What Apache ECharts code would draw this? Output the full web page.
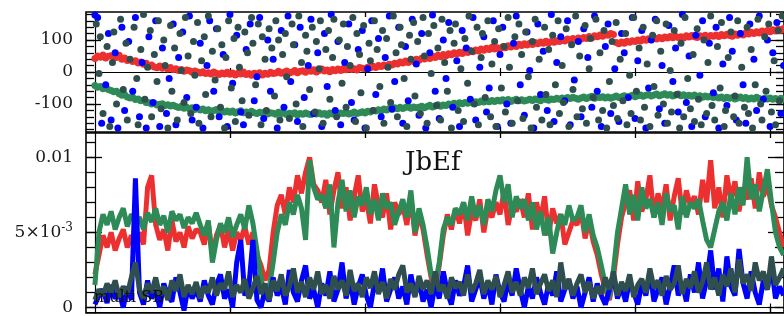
<!DOCTYPE html>
<html><head><meta charset="utf-8">
<script src="https://cdn.jsdelivr.net/npm/echarts@6/dist/echarts.min.js"></script>
<style>html,body{margin:0;padding:0;background:#fff}#c{width:784px;height:316px}</style>
</head><body><div id="c"></div>
<script>
// ---------- tick values ----------
const xTicks = [100, 200, 300, 400, 500];
const topMajor = [-100, 0, 100];
const topMinor = [-180,-160,-140,-120,-100,-80,-60,-40,-20,0,20,40,60,80,100,120,140,160,180];
const botMajor = [0, 0.005, 0.01];
const botMinor = [0,0.001,0.002,0.003,0.004,0.005,0.006,0.007,0.008,0.009,0.01,0.011];

// ---------- top panel: sequence series (x step 2) ----------
const topStep = 2;
const topRed = [42,50,46,53,44,49,51,47,45,52, 40,44,36,39,33,35,28,31,24,27, 18,22,16,13,19,12,15,9,14,8,
 10,5,8,2,6,4,-1,3,0,-3, 1,-5,-2,-6,0,-4,-8,-3,-6,-1, -7,-3,-9,-4,-6,0,-8,-5,-10,-4,
 -6,-2,-9,-4,-7,-1,-5,-3,2,-4, -1,3,-3,0,5,-2,2,4,-1,6, 2,7,0,5,9,3,6,1,8,4,
 9,5,11,7,13,8,10,6,14,12, 10,15,13,18,14,20,17,22,19,24, 22,27,25,31,28,34,30,36,33,40,
 37,43,41,46,42,49,45,52,48,55, 51,57,54,60,56,62,58,65,61,67, 63,69,66,72,68,74,70,77,72,76,
 73,79,76,82,78,84,80,87,83,88, 84,90,86,92,88,94,90,96,91,95, 93,98,95,101,97,103,99,105,101,106,
 103,108,105,111,107,113,110,116,112,118, 115,120,117,92,88,94,90,96,93,98, 95,100,97,103,99,104,101,107,103,108,
 104,109,106,111,107,112,108,110,106,113, 109,114,110,108,113,111,115,109,114,112, 116,111,117,113,118,114,112,119,115,120,
 116,122,119,124,120,126,122,128,124,130, 126,132,128,134,130,136];
const topGreen = [-42,-48,-45,-52,-49,-55,-58,-62,-60,-68, -73,-70,-78,-81,-79,-86,-84,-90,-88,-95,
 -96,-100,-98,-103,-101,-99,-105,-102,-106,-104, -108,-111,-107,-113,-110,-115,-112,-117,-114,-119,
 -116,-121,-118,-123,-120,-117,-124,-121,-125,-122, -126,-122,-128,-124,-121,-127,-125,-129,-123,-127,
 -130,-126,-128,-124,-131,-127,-129,-132,-126,-130, -128,-133,-129,-131,-127,-134,-130,-132,-128,-131,
 -133,-129,-131,-127,-132,-130,-135,-128,-131,-129, -132,-128,-130,-126,-131,-129,-125,-130,-127,-124,
 -128,-123,-125,-120,-122,-118,-121,-116,-119,-114, -117,-112,-115,-110,-114,-111,-108,-113,-109,-112,
 -110,-107,-112,-108,-104,-109,-106,-102,-107,-103, -105,-100,-103,-98,-101,-96,-99,-95,-98,-94,
 -97,-93,-95,-91,-94,-90,-93,-89,-92,-88, -91,-87,-90,-86,-92,-88,-85,-90,-87,-91,
 -88,-85,-89,-84,-87,-90,-83,-86,-88,-84, -86,-82,-85,-81,-84,-80,-83,-79,-82,-85,
 -81,-78,-83,-79,-76,-82,-78,-80,-77,-81, -78,-82,-79,-75,-80,-77,-74,-78,-76,-73,
 -77,-74,-72,-76,-73,-70,-75,-72,-69,-74, -71,-68,-73,-70,-75,-72,-69,-74,-71,-76,
 -73,-76,-72,-77,-74,-79,-75,-78,-76,-80, -77,-81,-78,-83,-79,-82,-80,-84,-81,-78,
 -83,-80,-85,-81,-84,-79,-83,-86,-82,-84, -81,-85,-83,-87,-82,-85];

// ---------- top panel: scattered points [x, y] ----------
const topBlue = [[0,178],[2,170],[5,-160],[8,-40],[10,120],[12,-150],[15,60],[17,-175],[20,140],[22,-120],
[25,95],[28,-60],[30,170],[33,-140],[35,30],[38,-175],[40,110],[43,-95],[45,160],[48,-170],
[50,75],[53,-130],[55,-20],[58,150],[60,-165],[62,45],[65,125],[68,-80],[70,175],[72,-150],
[75,-110],[78,90],[80,-175],[83,20],[85,160],[88,-60],[90,135],[92,-140],[95,55],[98,-170],
[100,180],[102,-35],[105,115],[108,-125],[110,-165],[112,70],[115,150],[118,-90],[120,-15],[122,170],
[125,-145],[128,100],[130,-60],[132,40],[135,-175],[138,130],[140,-110],[143,175],[145,-30],[148,85],
[150,-155],[152,140],[155,-80],[158,20],[160,165],[162,-130],[165,60],[168,-170],[170,120],[172,-45],
[175,180],[178,-120],[180,95],[182,-165],[185,30],[188,150],[190,-95],[192,-150],[195,70],[198,130],
[200,-175],[202,10],[205,160],[208,-70],[210,105],[212,-140],[215,45],[218,175],[220,-115],[222,-30],
[225,140],[228,-160],[230,80],[232,-90],[235,165],[238,25],[240,-135],[242,120],[245,-175],[248,60],
[250,178],[252,-60],[255,-145],[258,100],[260,-20],[262,155],[265,-110],[268,35],[270,-170],[272,130],
[275,75],[278,-85],[280,170],[282,-150],[285,15],[288,110],[290,-125],[292,-50],[295,160],[298,-170],
[300,55],[302,140],[305,-100],[308,-160],[310,90],[312,175],[315,-40],[318,-135],[320,125],[322,5],
[325,-175],[328,150],[330,-70],[332,65],[335,-120],[338,180],[340,-155],[342,30],[345,110],[348,-90],
[350,160],[352,-165],[355,-25],[358,95],[360,-140],[362,135],[365,45],[368,-110],[370,175],[372,-60],
[375,-170],[378,80],[380,150],[382,-130],[385,10],[388,-155],[390,120],[392,60],[395,-80],[398,170],
[400,-145],[402,35],[405,130],[408,-175],[410,-50],[412,100],[415,165],[418,-115],[420,20],[422,-160],
[425,145],[428,-30],[430,75],[432,-125],[435,180],[438,-95],[440,50],[442,-170],[445,115],[448,-10],
[450,160],[452,-140],[455,90],[458,-65],[460,140],[462,-175],[465,25],[468,-105],[470,170],[472,65],
[475,-150],[478,120],[480,-40],[482,-160],[485,150],[488,40],[490,-120],[492,175],[495,-85],[498,100],
[500,-170],[502,60],[505,155],[508,-130],[510,20]];
const topGray = [[1,150],[3,-5],[4,110],[6,-130],[9,80],[11,-170],[13,30],[14,125],[16,-100],[19,165],
[21,-55],[23,90],[24,-150],[26,40],[29,140],[31,-20],[32,-165],[34,70],[36,180],[37,-85],
[39,15],[41,130],[42,-140],[44,55],[46,-30],[47,160],[49,-115],[51,100],[52,20],[54,-175],
[56,145],[57,-60],[59,75],[61,-150],[63,120],[64,5],[66,-95],[67,170],[69,50],[71,-130],
[73,95],[74,-10],[76,155],[77,-160],[79,35],[81,110],[82,-70],[84,175],[86,-140],[87,65],
[89,-25],[91,135],[93,-110],[94,85],[96,-175],[97,45],[99,160],[101,-50],[103,105],[104,-155],
[106,140],[107,15],[109,-90],[111,125],[113,60],[114,-135],[116,170],[117,90],[119,-40],[121,150],
[123,-165],[124,110],[126,40],[127,-120],[129,135],[131,75],[133,-75],[134,160],[136,100],[137,-150],
[139,55],[141,120],[142,-15],[144,-145],[146,150],[147,85],[149,-100],[151,175],[153,30],[154,-170],
[156,115],[157,65],[159,-55],[161,140],[163,-125],[164,95],[166,10],[167,160],[169,-160],[171,70],
[173,130],[174,-85],[176,45],[177,165],[179,-140],[181,100],[183,-35],[184,150],[186,-110],[187,80],
[189,20],[191,170],[193,-155],[194,120],[196,55],[197,-65],[199,145],[201,-175],[203,90],[204,35],
[206,-120],[207,160],[209,70],[211,-45],[213,130],[214,-160],[216,105],[217,15],[219,-95],[221,175],
[223,60],[224,-140],[226,140],[227,85],[229,-20],[231,-170],[233,115],[234,40],[236,155],[237,-75],
[239,95],[241,-130],[243,170],[244,50],[246,-160],[247,120],[249,-5],[251,145],[253,-105],[254,75],
[256,-150],[257,165],[259,30],[261,-60],[263,130],[264,-175],[266,90],[267,150],[269,-120],[271,10],
[273,-155],[274,105],[276,-35],[277,175],[279,65],[281,-100],[283,140],[284,-165],[286,45],[287,120],
[289,-80],[291,160],[293,-140],[294,25],[296,95],[297,-170],[299,135],[301,-50],[303,80],[304,-125],
[306,170],[307,15],[309,-160],[311,110],[313,-90],[314,150],[316,55],[317,-145],[319,125],[321,-15],
[323,-175],[324,95],[326,165],[327,-110],[329,40],[331,-150],[333,140],[334,-70],[336,70],[337,-165],
[339,115],[341,-40],[343,160],[344,-130],[346,20],[347,-95],[349,135],[351,-170],[353,85],[354,-55],
[356,175],[357,-140],[359,50],[361,-115],[363,145],[364,-160],[366,10],[367,105],[369,-80],[371,165],
[373,-150],[374,60],[376,-120],[377,130],[379,-175],[381,-30],[383,95],[384,-105],[386,155],[387,-145],
[389,40],[391,-90],[393,120],[394,-165],[396,-10],[397,-130],[399,170],[401,-60],[403,75],[404,-150],
[406,140],[407,-110],[409,25],[411,-170],[413,115],[414,-45],[416,160],[417,-135],[419,65],[421,-100],
[423,150],[424,-160],[426,5],[427,-125],[429,130],[431,-70],[433,-175],[434,90],[436,-140],[437,170],
[439,-20],[441,-115],[443,55],[444,-155],[446,135],[447,-85],[449,-165],[451,100],[453,-130],[454,30],
[456,175],[457,-105],[459,-150],[461,80],[463,-50],[464,155],[466,-170],[467,-120],[469,45],[471,125],
[473,-140],[474,-75],[476,160],[477,-160],[479,15],[481,-110],[483,140],[484,-130],[486,70],[487,-175],
[489,-40],[491,165],[493,-100],[494,-150],[496,110],[497,-60],[499,150],[501,-125],[503,35],[504,-165],
[506,130],[507,-90],[509,175]];

// ---------- bottom panel "JbEf": values in units of 1e-4 (x step 3) ----------
const botStep = 3;
const botUnit = 1e-4;
const botRed = [22,35,48,40,50,38,46,52,40,48,40,
 50,42,80,88,55,45,52,38,58,44,50,40,54,46,52,
 50,42,56,35,48,55,40,52,38,50,45,54,42,50,35,
 28,18,25,
 50,68,75,62,80,70,88,76,90,100,82,78,
 70,85,62,78,90,66,80,58,74,88,64,72,56,82,68,60,76,52,70,62,
 68,55,74,48,62,52,
 35,20,12,28,
 48,62,52,66,56,70,48,64,58,72,50,66,60,
 70,62,78,55,68,64,
 72,60,76,52,70,58,74,48,66,56,62,42,50,58,
 55,64,46,58,44,
 35,22,12,5,
 20,42,60,70,
 78,58,84,64,72,88,60,76,66,82,58,74,86,62,78,68,
 74,62,85,70,98,66,80,60,88,72,84,64,80,
 72,86,66,90,74,82,68,60,50,40];
const botGreen = [15,50,62,55,64,52,60,66,54,62,58,
 60,52,63,57,66,55,61,50,64,58,62,53,60,56,63,
 55,48,58,30,45,56,50,60,47,55,62,52,68,56,38,
 20,5,12,
 30,50,62,55,70,62,75,66,45,98,80,72,
 75,66,82,40,70,85,64,78,60,74,68,80,62,72,58,76,66,70,55,64,
 72,60,78,50,66,55,
 40,22,15,30,
 52,60,55,66,62,70,58,74,60,68,55,72,64,
 78,88,70,82,60,74,
 66,72,58,70,52,64,48,60,36,50,62,55,68,58,
 60,68,50,62,48,
 40,28,15,6,
 25,50,66,82,
 62,75,58,80,66,72,60,70,55,76,64,68,52,74,60,70,
 66,72,58,45,40,52,64,70,58,76,62,80,68,
 100,72,82,64,78,92,70,50,40,35];
const botBlue = [2,8,12,3,15,6,10,0,14,5,86,
 10,2,18,6,12,0,16,8,4,20,10,-2,14,6,12,
 4,18,8,2,15,22,6,12,0,30,45,8,14,45,5,
 0,12,4,20,8,14,2,25,10,4,18,28,6,12,0,
 16,8,24,4,12,30,6,18,2,14,22,8,0,16,10,26,4,12,20,6,
 14,2,22,8,18,4,12,0,16,6,24,10,2,18,8,14,28,4,12,20,
 6,16,2,22,10,4,18,8,26,12,0,14,6,20,10,2,16,8,24,4,
 12,18,6,14,0,10,20,4,16,8,2,12,22,6,14,4,18,10,2,16,
 8,24,4,12,20,2,14,28,8,16,4,22,10,30,6,18,38,12,26,4,
 34,14,8,39,16,6,24,10,2,18,12,28,6,14,8];
const botGray = [5,12,8,16,10,18,7,14,9,20,30,
 12,6,16,10,20,8,14,5,18,11,22,7,15,9,17,
 6,14,10,20,8,16,12,24,7,15,10,19,6,13,21,
 9,16,5,18,11,22,8,14,26,10,17,7,20,12,24,
 9,15,6,21,12,18,8,25,11,16,7,20,13,24,9,17,6,19,12,22,
 28,10,16,7,21,12,18,9,24,11,15,6,20,13,17,8,22,10,16,25,
 9,18,12,21,7,15,24,10,17,8,20,13,26,9,16,22,11,18,7,30,
 12,19,8,16,22,10,17,6,14,9,20,12,24,8,17,11,22,7,15,19,
 10,26,13,18,8,21,12,16,28,9,19,13,24,10,17,30,12,20,8,22,
 14,26,10,32,16,22,11,30,18,24,12,34,15,20,26];

const titleText = 'JbEf';
const cornerText = 'multi SB';

// ---------- layout / style ----------
const FONT = 'DejaVu Serif';
const X_MIN = -6.6, X_MAX = 510.3;
const TOP_MIN = -187.5, TOP_MAX = 187.5;
const BOT_MIN = -0.00036, BOT_MAX = 0.01162;
const COL = {red:'#ec3030', green:'#2e8b57', blue:'#0000ff', gray:'#2f4f4f'};
const BLACK = '#000';

function xFrame(g, pos) {
  return {gridIndex:g, type:'value', min:X_MIN, max:X_MAX, position:pos,
    axisLine:{show:false, onZero:false}, splitLine:{show:false}, axisLabel:{show:false},
    axisTick:{show:true, inside:true, length:5, customValues:xTicks, lineStyle:{color:BLACK, width:1.3}}};
}
function xZero(g, inside) {
  return {gridIndex:g, type:'value', min:X_MIN, max:X_MAX, position:'bottom',
    axisLine:{show:true, onZero:true, lineStyle:{color:BLACK, width:1.2}}, splitLine:{show:false}, axisLabel:{show:false},
    axisTick:{show:true, inside:inside, length:4, customValues:xTicks, lineStyle:{color:BLACK, width:1.2}}};
}
function yFrame(g, pos, mn, mx, ticks, len, labels, fmt, rich) {
  return {gridIndex:g, type:'value', min:mn, max:mx, position:pos,
    axisLine:{show:false, onZero:false}, splitLine:{show:false},
    axisTick:{show:true, inside:true, length:len, customValues:ticks, lineStyle:{color:BLACK, width:1.3}},
    axisLabel:labels ? {show:true, customValues:labels, formatter:fmt, margin:13, fontFamily:FONT, fontSize:17, color:'#1a1a1a', rich:rich||{}} : {show:false}};
}
function yZero(g, mn, mx) {
  return {gridIndex:g, type:'value', min:mn, max:mx, position:'left',
    axisLine:{show:true, onZero:true, lineStyle:{color:BLACK, width:1.2}}, splitLine:{show:false},
    axisTick:{show:false}, axisLabel:{show:false}};
}

const topFmt = v => String(v);
const botFmt = v => v === 0 ? '0' : (Math.abs(v - 0.01) < 1e-9 ? '0.01' : '{b|5×10}{s|-3}');
const botRich = {b:{fontFamily:FONT, fontSize:17, color:'#1a1a1a'}, s:{fontFamily:FONT, fontSize:12, color:'#1a1a1a', padding:[0,0,10,0]}};

const seqTop = (arr) => arr.map((v, j) => [j * topStep, v]);
const seqBot = (arr) => arr.map((v, i) => [i * botStep, v * botUnit]);

const dot = (c) => ({color:c, opacity:1});
const option = {
  animation:false,
  backgroundColor:'#fff',
  grid:[
    {left:86, top:12, width:703, height:120, show:true, borderColor:BLACK, borderWidth:1.6, backgroundColor:'transparent'},
    {left:86, top:133, width:703, height:181, show:true, borderColor:BLACK, borderWidth:1.6, backgroundColor:'transparent'}
  ],
  xAxis:[
    xFrame(0,'bottom'), xFrame(0,'top'), xZero(0,true), xZero(0,false),
    xFrame(1,'bottom'), xFrame(1,'top'), xZero(1,true), xZero(1,false)
  ],
  yAxis:[
    yFrame(0,'left',TOP_MIN,TOP_MAX,topMajor,15,topMajor,topFmt),
    yFrame(0,'left',TOP_MIN,TOP_MAX,topMinor,8,null),
    yFrame(0,'right',TOP_MIN,TOP_MAX,topMajor,15,null),
    yFrame(0,'right',TOP_MIN,TOP_MAX,topMinor,8,null),
    yZero(0,TOP_MIN,TOP_MAX),
    yFrame(1,'left',BOT_MIN,BOT_MAX,botMajor,16,botMajor,botFmt,botRich),
    yFrame(1,'left',BOT_MIN,BOT_MAX,botMinor,9,null),
    yFrame(1,'right',BOT_MIN,BOT_MAX,botMajor,16,null),
    yFrame(1,'right',BOT_MIN,BOT_MAX,botMinor,9,null),
    yZero(1,BOT_MIN,BOT_MAX)
  ],
  series:[
    {type:'scatter', xAxisIndex:0, yAxisIndex:0, data:seqTop(topRed), symbolSize:7, itemStyle:dot(COL.red), z:2},
    {type:'scatter', xAxisIndex:0, yAxisIndex:0, data:seqTop(topGreen), symbolSize:7, itemStyle:dot(COL.green), z:2},
    {type:'scatter', xAxisIndex:0, yAxisIndex:0, data:topBlue, symbolSize:7, itemStyle:dot(COL.blue), z:2},
    {type:'scatter', xAxisIndex:0, yAxisIndex:0, data:topGray, symbolSize:7, itemStyle:dot(COL.gray), z:2},
    {type:'line', xAxisIndex:4, yAxisIndex:5, data:seqBot(botRed), showSymbol:false, symbol:'none', lineStyle:{color:COL.red, width:5}, z:2},
    {type:'line', xAxisIndex:4, yAxisIndex:5, data:seqBot(botGreen), showSymbol:false, symbol:'none', lineStyle:{color:COL.green, width:5}, z:2},
    {type:'line', xAxisIndex:4, yAxisIndex:5, data:seqBot(botBlue), showSymbol:false, symbol:'none', lineStyle:{color:COL.blue, width:5}, z:2},
    {type:'line', xAxisIndex:4, yAxisIndex:5, data:seqBot(botGray), showSymbol:false, symbol:'none', lineStyle:{color:COL.gray, width:5}, z:2}
  ],
  graphic:[
    {type:'text', z:100, style:{text:titleText, x:405, y:163, font:'26px "DejaVu Serif"', fill:'#111', verticalAlign:'middle', textVerticalAlign:'middle'}},
    {type:'text', z:100, style:{text:cornerText, x:94, y:298, font:'16px "DejaVu Serif"', fill:'#111', verticalAlign:'middle', textVerticalAlign:'middle'}}
  ]
};
const chart = echarts.init(document.getElementById('c'), null, {renderer:'canvas'});
chart.setOption(option);
</script></body></html>
